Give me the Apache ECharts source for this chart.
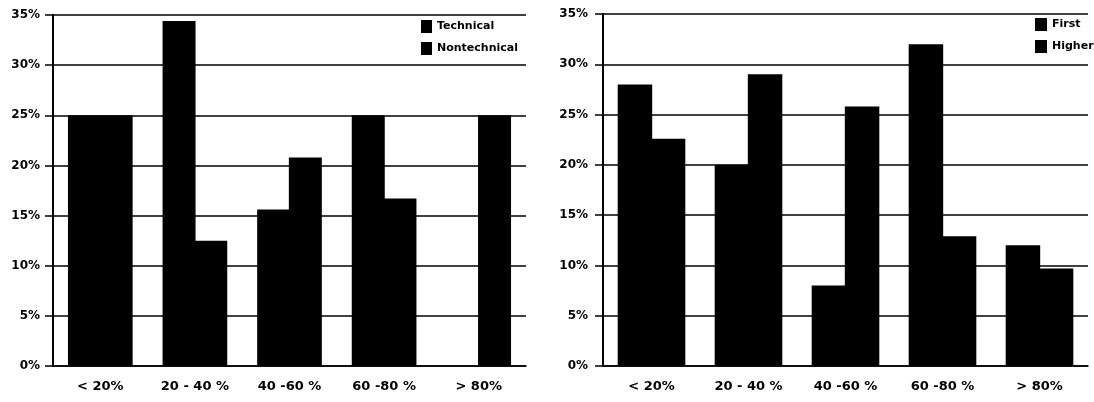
<!DOCTYPE html>
<html>
<head>
<meta charset="utf-8">
<script src="https://cdn.jsdelivr.net/npm/echarts@6/dist/echarts.min.js"></script>
<style>
  html, body { margin: 0; padding: 0; background: #fff; }
  #chart { width: 1094px; height: 402px; }
</style>
</head>
<body>
<div id="chart"></div>
<script>
// Share of respondents per score band
const categories = ['< 20%', '20 - 40 %', '40 -60 %', '60 -80 %', '> 80%'];

// Left panel: technical vs nontechnical
const technical = [25, 34.4, 15.6, 25, 0];
const nontechnical = [25, 12.5, 20.8, 16.7, 25];

// Right panel: first vs higher
const first = [28, 20, 8, 32, 12];
const higher = [22.6, 29, 25.8, 12.9, 9.7];

const FONT = 'DejaVu Sans';
const INK = '#000';

function xAxisFor(gridIndex) {
  return {
    type: 'category',
    gridIndex: gridIndex,
    data: categories,
    axisLine: { lineStyle: { color: INK, width: 1.5 } },
    axisTick: { length: 8, lineStyle: { color: INK, width: 1.5 } },
    axisLabel: { color: INK, fontFamily: FONT, fontWeight: 'bold', fontSize: 13, margin: 14 }
  };
}

function yAxisFor(gridIndex, margin) {
  return {
    type: 'value',
    gridIndex: gridIndex,
    min: 0,
    max: 35,
    interval: 5,
    axisLine: { show: true, lineStyle: { color: INK, width: 2 } },
    axisTick: { show: true, length: 8, lineStyle: { color: INK, width: 1.5 } },
    splitLine: { lineStyle: { color: INK, width: 1.5 } },
    axisLabel: { formatter: '{value}%', color: INK, fontFamily: FONT, fontWeight: 'bold', fontSize: 12, margin: margin }
  };
}

// Solid black bars; neighbours overlap slightly so no seam shows between them
function barSeries(name, data, idx, width) {
  return {
    name: name,
    type: 'bar',
    xAxisIndex: idx,
    yAxisIndex: idx,
    data: data,
    barWidth: width,
    barGap: '-4%',
    itemStyle: { color: INK },
    emphasis: { disabled: true }
  };
}

const legendText = { color: INK, fontFamily: FONT, fontWeight: 'bold', fontSize: 11 };

const chart = echarts.init(document.getElementById('chart'), null, { renderer: 'canvas' });
chart.setOption({
  animation: false,
  backgroundColor: '#fff',
  grid: [
    { left: 53, right: 568, top: 15, bottom: 36 },
    { left: 603, right: 6, top: 14, bottom: 36 }
  ],
  legend: [
    {
      data: ['Technical', 'Nontechnical'],
      orient: 'vertical', left: 416, top: 15,
      icon: 'rect', itemWidth: 11, itemHeight: 13, itemGap: 9,
      textStyle: legendText, selectedMode: false
    },
    {
      data: ['First', 'Higher'],
      orient: 'vertical', left: 1030, top: 13,
      icon: 'rect', itemWidth: 12, itemHeight: 13, itemGap: 9,
      textStyle: legendText, selectedMode: false
    }
  ],
  xAxis: [xAxisFor(0), xAxisFor(1)],
  yAxis: [yAxisFor(0, 13), yAxisFor(1, 15)],
  series: [
    barSeries('Technical', technical, 0, 33),
    barSeries('Nontechnical', nontechnical, 0, 33),
    barSeries('First', first, 1, 34.5),
    barSeries('Higher', higher, 1, 34.5)
  ]
});
</script>
</body>
</html>
